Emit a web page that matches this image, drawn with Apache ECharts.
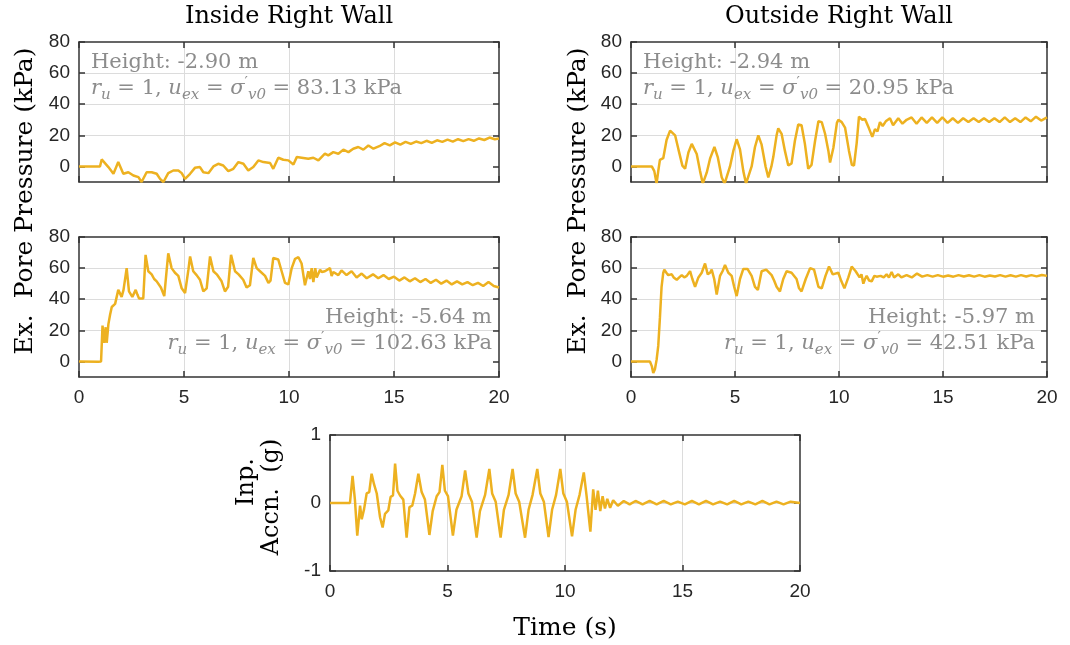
<!DOCTYPE html>
<html>
<head>
<meta charset="utf-8">
<script src="https://cdn.jsdelivr.net/npm/echarts@6/dist/echarts.min.js"></script>
<style>
html, body { margin: 0; padding: 0; background: #fff; }
#main { width: 1070px; height: 645px; }
</style>
</head>
<body>
<div id="main"></div>
<script>
// ---- data: time (s) and value ----
// Inside right wall, height -2.90 m (kPa)
var tInUp = [0, 1.0, 1.08, 1.16, 1.4, 1.64, 1.87, 2.11, 2.35, 2.59, 2.83, 2.98, 3.22, 3.46, 3.7, 3.86, 4.02, 4.25, 4.49, 4.73, 4.89, 5.05, 5.29, 5.52, 5.76, 5.92, 6.16, 6.4, 6.63, 6.87, 7.11, 7.35, 7.59, 7.83, 8.06, 8.3, 8.54, 8.78, 9.1, 9.25, 9.49, 9.73, 9.97, 10.21, 10.37, 10.6, 10.92, 11.16, 11.4, 11.71, 11.87, 12.11, 12.35, 12.59, 12.83, 13.06, 13.3, 13.54, 13.78, 14.02, 14.3, 14.55, 14.8, 15.05, 15.3, 15.55, 15.8, 16.05, 16.3, 16.55, 16.8, 17.05, 17.3, 17.55, 17.8, 18.05, 18.3, 18.55, 18.8, 19.05, 19.3, 19.55, 19.8, 20];
var pInUp = [0, 0, 4.5, 4.3, -0.4, -4.7, 2.8, -4.7, -3.7, -5.8, -6.9, -10, -3.7, -3.7, -4.7, -8, -10, -4.3, -2.6, -2.6, -4.3, -8, -4.7, -0.9, -0.4, -3.7, -4.3, 0, 1.7, 0.6, -3, -1.5, 2.8, 1.7, -2.6, -0.4, 3.9, 2.8, 2.2, -1.5, 5.6, 4.3, 3.9, 1.3, 6, 5.6, 4.9, 5.6, 3.9, 8.2, 7.1, 9.2, 8.2, 10.8, 9.2, 11.4, 12.5, 10.8, 13.5, 11.4, 13, 15, 13.5, 15.5, 14, 15.8, 14.5, 16, 15, 16.5, 15.2, 16.8, 15.8, 17.2, 16, 17.5, 16.3, 17.6, 16.5, 18, 17, 18.6, 17.5, 18];

// Outside right wall, height -2.94 m (kPa)
var tOutUp = [0, 1.0, 1.12, 1.23, 1.31, 1.39, 1.55, 1.71, 1.88, 1.96, 2.12, 2.28, 2.47, 2.6, 2.76, 2.92, 3.0, 3.16, 3.32, 3.45, 3.64, 3.8, 4.01, 4.17, 4.36, 4.5, 4.76, 4.92, 5.08, 5.24, 5.4, 5.53, 5.8, 5.96, 6.12, 6.28, 6.47, 6.6, 6.75, 6.84, 7.0, 7.08, 7.24, 7.4, 7.56, 7.72, 7.88, 8.04, 8.2, 8.36, 8.52, 8.68, 8.85, 9.01, 9.17, 9.33, 9.49, 9.57, 9.73, 9.9, 9.97, 10.13, 10.29, 10.48, 10.62, 10.72, 10.85, 10.96, 11.12, 11.25, 11.44, 11.6, 11.73, 11.85, 11.97, 12.1, 12.25, 12.45, 12.6, 12.85, 13.05, 13.25, 13.49, 13.73, 13.97, 14.22, 14.47, 14.72, 14.97, 15.22, 15.47, 15.72, 15.97, 16.22, 16.47, 16.72, 16.97, 17.22, 17.47, 17.72, 17.97, 18.22, 18.47, 18.72, 18.97, 19.22, 19.47, 19.72, 20];
var pOutUp = [0, 0, -3, -11, -3, 4.2, 5.3, 17, 23, 24, 20, 11, 0.5, -1.5, 9, 14.5, 15, 8, -3, -11, -4, 5, 12.5, 6, -7, -11, 0, 10, 17.5, 11, -3, -11, 0, 12.5, 20, 14, 0, -7, 0, 6, 20, 24.5, 21, 10, 0.6, 2, 16.5, 27, 26.5, 14.5, -1.5, 1, 16.5, 29, 28.5, 21, 10, 2.5, 12, 28, 30, 28.5, 25, 10, 1, 0.5, 15, 32, 30, 30.5, 24.5, 19, 24, 22.5, 28.5, 26, 29, 31, 26.5, 31, 27.5, 30, 31.5, 27.5, 31.5, 28, 31.5, 28, 31.5, 28, 31, 28, 31, 28.5, 31, 28.5, 31, 28.5, 31, 28.5, 31.5, 28.5, 31, 28.5, 31.5, 29, 32, 29.5, 31.5];

// Inside right wall, height -5.64 m (kPa)
var tInLo = [0, 0.92, 1.05, 1.12, 1.2, 1.27, 1.32, 1.4, 1.48, 1.56, 1.64, 1.72, 1.79, 1.87, 1.95, 2.03, 2.12, 2.19, 2.27, 2.38, 2.54, 2.7, 2.78, 2.86, 3.06, 3.17, 3.3, 3.46, 3.58, 3.7, 3.9, 4.06, 4.17, 4.25, 4.41, 4.57, 4.73, 4.89, 5.05, 5.21, 5.29, 5.44, 5.6, 5.76, 5.92, 6.08, 6.24, 6.4, 6.56, 6.79, 6.95, 7.1, 7.24, 7.43, 7.6, 7.82, 7.98, 8.14, 8.3, 8.46, 8.62, 8.86, 9.02, 9.12, 9.25, 9.49, 9.65, 9.81, 9.97, 10.13, 10.29, 10.45, 10.6, 10.76, 10.92, 11.0, 11.08, 11.16, 11.25, 11.32, 11.48, 11.56, 11.71, 11.79, 11.95, 12.03, 12.11, 12.35, 12.5, 12.74, 12.98, 13.22, 13.46, 13.7, 14.0, 14.25, 14.5, 14.75, 15.0, 15.25, 15.5, 15.75, 16.0, 16.25, 16.5, 16.75, 17.0, 17.25, 17.5, 17.75, 18.0, 18.25, 18.5, 18.75, 19.0, 19.25, 19.5, 19.75, 20];
var pInLo = [0, -0.2, 0, 23, 12, 22, 12, 24, 30, 35, 35, 37, 38, 46, 45, 41.5, 46, 47, 60, 45, 41.5, 46, 43, 40.5, 40.5, 68.5, 58, 56, 53, 51.5, 47.5, 42, 58, 69.5, 60, 57, 55, 47, 44, 59, 67.5, 58, 55.5, 52.5, 45, 47, 67.5, 58, 56, 51.5, 45, 48, 68.5, 58, 56, 52.5, 47.5, 49, 66.5, 60, 58, 55, 50.5, 52, 66.5, 65.5, 58, 50.5, 49.5, 60, 66, 67, 63, 49, 58, 53, 60, 51, 60, 54, 59, 57.5, 58, 58.5, 60, 55, 57.5, 55.5, 58.5, 55.5, 58, 54, 56.5, 53.5, 56, 53.5, 55.5, 53, 54.5, 52, 54, 51.5, 53.5, 51, 53, 50.5, 52.5, 50, 52, 49.5, 51.5, 49.5, 51, 49, 50.5, 48.5, 51, 48.5, 47.5];

// Outside right wall, height -5.97 m (kPa)
var tOutLo = [0, 0.91, 1.0, 1.07, 1.15, 1.23, 1.31, 1.39, 1.47, 1.55, 1.6, 1.7, 1.79, 1.96, 2.05, 2.2, 2.32, 2.44, 2.56, 2.68, 2.84, 2.95, 3.08, 3.24, 3.4, 3.56, 3.69, 3.8, 3.88, 4.0, 4.12, 4.28, 4.4, 4.52, 4.68, 4.84, 4.96, 5.08, 5.24, 5.4, 5.6, 5.8, 5.96, 6.1, 6.28, 6.5, 6.76, 6.88, 7.0, 7.16, 7.32, 7.48, 7.72, 7.96, 8.08, 8.2, 8.4, 8.61, 8.8, 9.01, 9.17, 9.35, 9.52, 9.7, 9.97, 10.1, 10.26, 10.45, 10.61, 10.8, 10.99, 11.08, 11.17, 11.25, 11.33, 11.45, 11.57, 11.7, 11.81, 12.0, 12.15, 12.29, 12.4, 12.53, 12.65, 12.85, 13.0, 13.25, 13.5, 13.75, 14.0, 14.25, 14.5, 14.75, 15.0, 15.25, 15.5, 15.75, 16.0, 16.25, 16.5, 16.75, 17.0, 17.25, 17.5, 17.75, 18.0, 18.25, 18.5, 18.75, 19.0, 19.25, 19.5, 19.75, 20];
var pOutLo = [0, 0, -3, -7.5, -5, 1, 10, 28, 48, 57, 59, 57, 55.5, 56, 54, 52.5, 54, 55.5, 54, 55, 58, 53, 48, 54, 57, 63, 56, 57, 59, 53, 43, 55, 58, 62, 57, 55, 48, 42, 53, 59.5, 59.5, 55, 48, 46, 58, 59, 55.5, 52, 48, 45, 53, 58, 57, 53, 47, 45, 53, 60, 59, 48, 47, 55, 61, 56, 57, 52, 47, 54, 61, 58, 54, 56, 50, 53, 55, 52, 51.5, 55, 54.5, 55, 54, 56, 54, 57.5, 54, 56, 54, 55.5, 54, 56.5, 54.5, 55.5, 54.5, 55.5, 54.5, 55.3, 54.5, 55.5, 54.6, 55.4, 54.5, 55.5, 54.5, 55.3, 54.6, 55.5, 54.5, 55.4, 54.5, 55.5, 54.6, 55.5, 54.7, 55.6, 55];

// Input acceleration (g)
var tAcc = [0, 0.85, 0.96, 1.06, 1.16, 1.28, 1.35, 1.45, 1.56, 1.67, 1.77, 1.87, 1.99, 2.13, 2.24, 2.34, 2.48, 2.58, 2.68, 2.77, 2.87, 2.98, 3.12, 3.26, 3.38, 3.5, 3.62, 3.76, 3.9, 4.04, 4.23, 4.37, 4.54, 4.66, 4.78, 4.89, 5.02, 5.23, 5.38, 5.6, 5.75, 5.89, 6.04, 6.24, 6.38, 6.6, 6.78, 6.9, 7.05, 7.26, 7.4, 7.6, 7.77, 7.9, 8.05, 8.3, 8.45, 8.62, 8.82, 8.95, 9.1, 9.3, 9.45, 9.62, 9.8, 9.93, 10.08, 10.3, 10.45, 10.62, 10.8, 10.92, 11.08, 11.2, 11.3, 11.4, 11.5, 11.6, 11.7, 11.8, 11.92, 12.05, 12.25, 12.5, 12.75, 13.0, 13.3, 13.6, 13.9, 14.2, 14.5, 14.8, 15.1, 15.4, 15.7, 16.0, 16.3, 16.6, 16.9, 17.2, 17.5, 17.8, 18.1, 18.4, 18.7, 19.0, 19.3, 19.6, 20];
var aAcc = [0, 0, 0.4, 0.05, -0.48, -0.04, -0.24, -0.09, 0.14, 0.16, 0.43, 0.28, 0.14, -0.21, -0.36, -0.16, -0.11, 0.09, 0.11, 0.58, 0.18, 0.11, 0.05, -0.51, -0.06, -0.04, 0.14, 0.43, 0.16, 0.05, -0.47, -0.12, 0.1, 0.16, 0.56, 0.18, 0.1, -0.48, -0.1, 0.1, 0.48, 0.14, 0.02, -0.51, -0.12, 0.12, 0.5, 0.14, 0.02, -0.51, -0.1, 0.12, 0.5, 0.14, 0.02, -0.51, -0.1, 0.12, 0.5, 0.14, 0.02, -0.5, -0.1, 0.12, 0.5, 0.14, 0.02, -0.49, -0.1, 0.12, 0.45, 0.1, -0.42, 0.2, -0.1, 0.18, -0.12, 0.1, -0.08, 0.06, -0.07, 0.04, -0.04, 0.03, -0.02, 0.03, -0.02, 0.03, -0.02, 0.03, -0.02, 0.02, -0.02, 0.03, -0.02, 0.03, -0.02, 0.02, -0.02, 0.03, -0.02, 0.02, -0.02, 0.03, -0.02, 0.02, -0.02, 0.02, 0];

// tick values
var kpaTicks = [0, 20, 40, 60, 80];
var accTicks = [-1, 0, 1];

var lineCol = '#EDB120';
var axisCol = '#333333';
var gridCol = '#dcdcdc';
var labCol = '#262626';
var noteCol = '#8c8c8c';
var serif = '"DejaVu Serif", serif';

function pairs(t, v) {
  return t.map(function (x, i) { return [x, v[i]]; });
}

var tickFont = { color: labCol, fontFamily: '"Liberation Sans", Arial, sans-serif', fontSize: 19 };

function xAxes(g, showLabels) {
  var common = {
    type: 'value', gridIndex: g, min: 0, max: 20, interval: 5,
    axisLine: { show: true, onZero: false, lineStyle: { color: axisCol, width: 1.5 } },
    axisTick: { show: true, inside: true, length: 6, lineStyle: { color: axisCol, width: 1.5 } }
  };
  return [
    Object.assign({
      position: 'bottom',
      axisLabel: Object.assign({ show: showLabels, margin: 11 }, tickFont),
      splitLine: { show: true, showMinLine: false, showMaxLine: false, lineStyle: { color: gridCol, width: 1 } }
    }, common),
    Object.assign({ position: 'top', axisLabel: { show: false }, splitLine: { show: false } }, common)
  ];
}

function yAxes(g, min, max, ticks) {
  var common = {
    type: 'value', gridIndex: g, min: min, max: max,
    axisLine: { show: true, onZero: false, lineStyle: { color: axisCol, width: 1.5 } },
    axisTick: { show: true, inside: true, length: 6, customValues: ticks, lineStyle: { color: axisCol, width: 1.5 } }
  };
  return [
    Object.assign({
      position: 'left',
      axisLabel: Object.assign({ margin: 9, customValues: ticks }, tickFont),
      splitLine: { show: true, showMinLine: false, showMaxLine: false, lineStyle: { color: gridCol, width: 1 } }
    }, common),
    Object.assign({ position: 'right', axisLabel: { show: false }, splitLine: { show: false } }, common)
  ];
}

var grids = [
  { left: 79, top: 42, width: 420, height: 140 },
  { left: 631, top: 42, width: 416, height: 140 },
  { left: 79, top: 237, width: 420, height: 140 },
  { left: 631, top: 237, width: 416, height: 140 },
  { left: 330, top: 435, width: 470, height: 136 }
];

var xs = [].concat(xAxes(0, false), xAxes(1, false), xAxes(2, true), xAxes(3, true), xAxes(4, true));
var ys = [].concat(yAxes(0, -10, 80, kpaTicks), yAxes(1, -10, 80, kpaTicks),
  yAxes(2, -10, 80, kpaTicks), yAxes(3, -10, 80, kpaTicks), yAxes(4, -1, 1, accTicks));

function line(k, data) {
  return {
    type: 'line', xAxisIndex: 2 * k, yAxisIndex: 2 * k, data: data,
    showSymbol: false, symbol: 'none', clip: true,
    lineStyle: { color: lineCol, width: 2.5 }, itemStyle: { color: lineCol }
  };
}

function txt(x, y, s, opt) {
  return {
    type: 'text', x: x, y: y, rotation: opt.rot || 0, z: 100,
    style: Object.assign({
      text: s, fill: opt.fill || '#000',
      font: opt.font || ('24px ' + serif),
      textAlign: opt.align || 'center', textVerticalAlign: 'middle'
    }, opt.rich ? { rich: opt.rich } : {})
  };
}

var mathRich = {
  n: { fontFamily: serif, fontSize: 21, lineHeight: 27, verticalAlign: 'middle', fill: noteCol },
  i: { fontFamily: serif, fontSize: 21, fontStyle: 'italic', lineHeight: 27, verticalAlign: 'middle', fill: noteCol },
  s: { fontFamily: serif, fontSize: 15, fontStyle: 'italic', lineHeight: 27, verticalAlign: 'bottom', fill: noteCol },
  p: { fontFamily: serif, fontSize: 15, lineHeight: 27, verticalAlign: 'top', fill: noteCol }
};
function mathLine(val) {
  return '{i|r}{s|u}{n| = 1, }{i|u}{s|ex}{n| = }{i|σ}{p|′}{s|v0}{n| = ' + val + ' kPa}';
}
var noteFont = '21px ' + serif;

var option = {
  animation: false,
  backgroundColor: '#fff',
  grid: grids,
  xAxis: xs,
  yAxis: ys,
  series: [
    line(0, pairs(tInUp, pInUp)),
    line(1, pairs(tOutUp, pOutUp)),
    line(2, pairs(tInLo, pInLo)),
    line(3, pairs(tOutLo, pOutLo)),
    line(4, pairs(tAcc, aAcc))
  ],
  graphic: [
    txt(289, 17, 'Inside Right Wall', {}),
    txt(839, 17, 'Outside Right Wall', {}),
    txt(25, 201, 'Ex.  Pore Pressure (kPa)', { rot: Math.PI / 2, font: '25px ' + serif }),
    txt(578, 201, 'Ex.  Pore Pressure (kPa)', { rot: Math.PI / 2, font: '25px ' + serif }),
    txt(247, 482, 'Inp.', { rot: Math.PI / 2, font: '24px ' + serif }),
    txt(272, 497, 'Accn.  (g)', { rot: Math.PI / 2, font: '24px ' + serif }),
    txt(565, 628, 'Time (s)', { font: '25px ' + serif }),
    txt(91, 63, 'Height: -2.90 m', { align: 'left', fill: noteCol, font: noteFont }),
    txt(91, 89, mathLine('83.13'), { align: 'left', fill: noteCol, font: noteFont, rich: mathRich }),
    txt(643, 63, 'Height: -2.94 m', { align: 'left', fill: noteCol, font: noteFont }),
    txt(643, 89, mathLine('20.95'), { align: 'left', fill: noteCol, font: noteFont, rich: mathRich }),
    txt(492, 318, 'Height: -5.64 m', { align: 'right', fill: noteCol, font: noteFont }),
    txt(492, 344, mathLine('102.63'), { align: 'right', fill: noteCol, font: noteFont, rich: mathRich }),
    txt(1035, 318, 'Height: -5.97 m', { align: 'right', fill: noteCol, font: noteFont }),
    txt(1035, 344, mathLine('42.51'), { align: 'right', fill: noteCol, font: noteFont, rich: mathRich })
  ]
};

var chart = echarts.init(document.getElementById('main'), null, { renderer: 'canvas' });
chart.setOption(option);
</script>
</body>
</html>
